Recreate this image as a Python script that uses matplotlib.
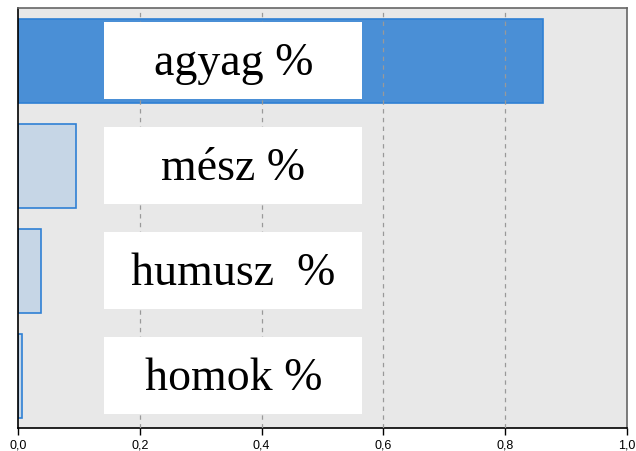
import numpy as np
import matplotlib.pyplot as plt
from matplotlib.ticker import FuncFormatter

labels = ["agyag %", "mész %", "humusz  %", "homok %"]
values = [0.862, 0.096, 0.037, 0.007]
highlight = [True, False, False, False]
ticks = [0.0, 0.2, 0.4, 0.6, 0.8, 1.0]

fig = plt.figure(figsize=(6.36, 4.51), dpi=100)
ax = fig.add_axes([18 / 636, 1 - 428 / 451, 609 / 636, 420 / 451])
ax.set_facecolor("#e8e8e8")

y = np.arange(len(labels))
colors = ["#4a8fd6" if h else "#c6d6e6" for h in highlight]
ax.barh(y, values, height=0.8, color=colors, edgecolor="#2f80d4", linewidth=1.2, zorder=2)

for gx in ticks[1:-1]:
    ax.axvline(gx, color="#999999", linestyle=(0, (3.5, 3.5)), linewidth=0.9, zorder=3)

for yi, lab in zip(y, labels):
    ax.add_patch(plt.Rectangle((0.142, yi - 0.37), 0.423, 0.74, facecolor="white",
                               edgecolor="none", zorder=4))
    ax.text(0.3535, yi + 0.035, lab, ha="center", va="center", fontsize=33,
            family="Liberation Serif", color="black", zorder=5)

ax.set_xlim(0, 1)
ax.set_ylim(3.5, -0.5)
ax.set_yticks([])
ax.set_xticks(ticks)
ax.xaxis.set_major_formatter(FuncFormatter(lambda v, p: f"{v:.1f}".replace(".", ",")))
ax.tick_params(axis="x", direction="out", length=5, width=1, labelsize=9, pad=3)
for lbl in ax.get_xticklabels():
    lbl.set_family("Liberation Sans")

ax.spines["left"].set_color("black")
ax.spines["bottom"].set_color("black")
ax.spines["top"].set_color("#666666")
ax.spines["right"].set_color("#666666")
for s in ax.spines.values():
    s.set_linewidth(1.2)

fig.savefig("out.png", dpi=100)
